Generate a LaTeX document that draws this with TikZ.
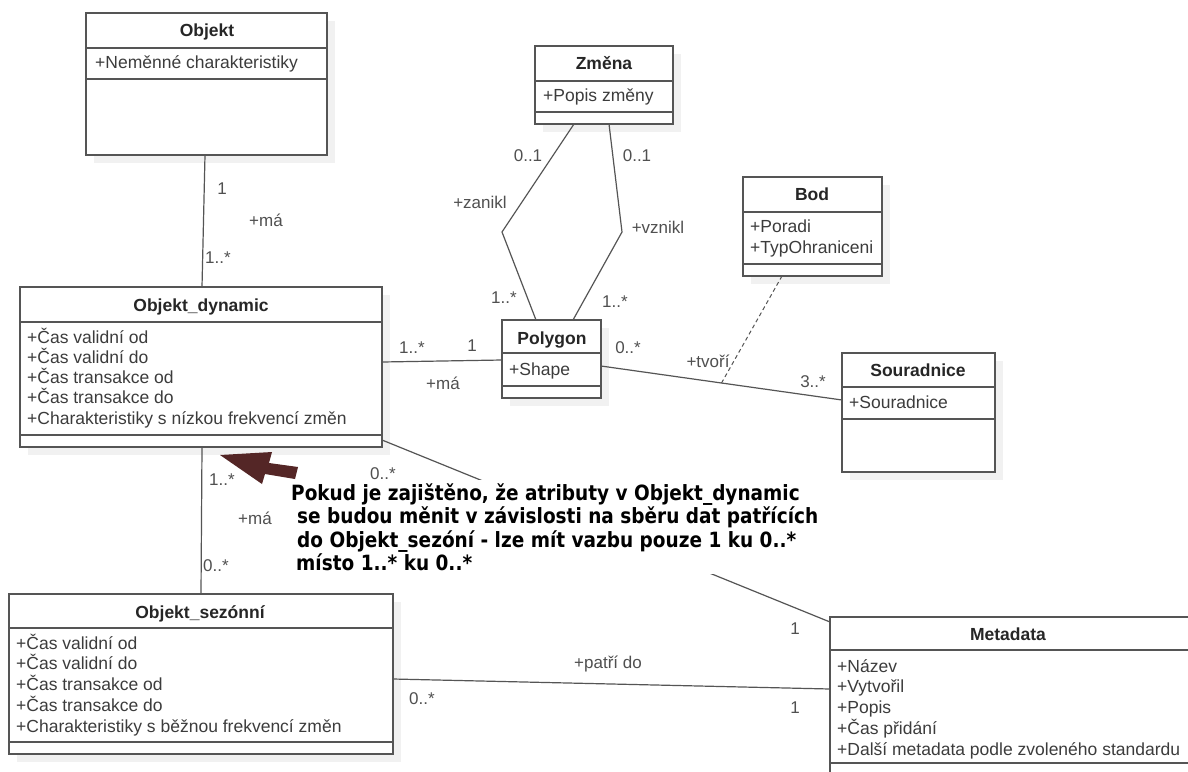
\documentclass[tikz,border=0pt]{standalone}
\usepackage{fontspec}
\setmainfont{Liberation Sans}
\newfontfamily\notefont[FakeStretch=0.88]{DejaVu Sans}
\usetikzlibrary{calc}
\definecolor{linec}{HTML}{555555}
\definecolor{txtc}{HTML}{3C3C3C}
\definecolor{titc}{HTML}{262626}
\definecolor{labc}{HTML}{505050}
\definecolor{shadc}{HTML}{F1F1F1}
\definecolor{arrc}{RGB}{84,38,38}
\tikzset{
  classbox/.style={draw=linec, line width=1.3pt, fill=white, rectangle, inner sep=0pt, outer sep=0pt, anchor=north west},
  sepline/.style={draw=linec, line width=1.3pt},
  assoc/.style={draw=linec, line width=1.2pt},
  titletxt/.style={font=\fontsize{17.5}{20}\selectfont\bfseries, text=titc, inner sep=0pt, anchor=base},
  attrtxt/.style={font=\fontsize{17.5}{20}\selectfont, text=txtc, inner sep=0pt, anchor=base west},
  labtxt/.style={font=\fontsize{17}{20}\selectfont, text=labc, inner sep=0pt, anchor=base},
  notetxt/.style={font=\notefont\bfseries\fontsize{21}{23.5}\selectfont, text=black, fill=white, inner xsep=3pt, inner ysep=3pt, align=left, anchor=north west},
}
% #1 name, #2 x1, #3 y1, #4 x2, #5 y2, #6 sep1, #7 sep2
\newcommand\classframe[7]{%
  \fill[shadc] (#2+8,#3+8) rectangle (#4+8,#5+8);
  \node[classbox, minimum width={#4pt-#2pt}, minimum height={#5pt-#3pt}] (#1) at (#2,#3) {};
  \draw[sepline] (#2,#6) -- (#4,#6);
  \draw[sepline] (#2,#7) -- (#4,#7);
}
% #1 name, #2 x, #3 first centre y, #4 dy, #5 list
\newcommand\attrlist[5]{%
  \foreach \attrtext [count=\i from 0] in {#5} {\node[attrtxt] (#1-a\i) at (#2,#3+6+\i*#4) {\attrtext};}
}
\begin{document}
\begin{tikzpicture}[x=1pt,y=-1pt]
\useasboundingbox (0,0) rectangle (1188,771);
\fill[white] (0,0) rectangle (1188,771);
\clip (0,0) rectangle (1188,771);

% classes
\classframe{objekt}{86}{13}{327}{155}{48}{79}
\node[titletxt] (objekt-t) at (207,36) {Objekt};
\attrlist{objekt}{95}{62}{20}{+Neměnné charakteristiky}

\classframe{zmena}{535}{46}{673}{124}{81}{112}
\node[titletxt] (zmena-t) at (604,69) {Změna};
\attrlist{zmena}{543}{95}{20}{+Popis změny}

\classframe{bod}{743}{177}{882}{276}{212}{264}
\node[titletxt] (bod-t) at (812,200) {Bod};
\attrlist{bod}{750}{226}{21}{+Poradi,+TypOhraniceni}

\classframe{dyn}{20}{287}{382}{447}{322}{435}
\node[titletxt] (dyn-t) at (201,311) {Objekt\_dynamic};
\attrlist{dyn}{27}{337}{20.3}{+Čas validní od,+Čas validní do,+Čas transakce od,+Čas transakce do,+Charakteristiky s nízkou frekvencí změn}

\classframe{poly}{502}{320}{601}{398}{353}{386}
\node[titletxt] (poly-t) at (552,344) {Polygon};
\attrlist{poly}{509}{369}{20}{+Shape}

\classframe{sour}{842}{353}{995}{472}{387}{419}
\node[titletxt] (sour-t) at (918,376) {Souradnice};
\attrlist{sour}{849}{402}{20}{+Souradnice}

\classframe{sez}{9}{594}{393}{754}{628}{742}
\node[titletxt] (sez-t) at (200,618) {Objekt\_sezónní};
\attrlist{sez}{16}{643}{20.75}{+Čas validní od,+Čas validní do,+Čas transakce od,+Čas transakce do,+Charakteristiky s běžnou frekvencí změn}

\classframe{meta}{830}{617}{1195}{800}{650}{763}
\node[titletxt] (meta-t) at (1008,640) {Metadata};
\attrlist{meta}{837}{666}{20.75}{+Název,+Vytvořil,+Popis,+Čas přidání,+Další metadata podle zvoleného standardu}

% connectors
\draw[assoc] ([xshift=-1.5pt]objekt.south) -- ([xshift=1pt]dyn.north);
\coordinate (bendL) at (502,232);
\coordinate (bendR) at (622,232);
\draw[assoc] ([xshift=-30pt]zmena.south) -- (bendL) -- ([xshift=-15.5pt]poly.north);
\draw[assoc] ([xshift=5pt]zmena.south) -- (bendR) -- ([xshift=21.5pt]poly.north);
\draw[assoc] ([yshift=5pt]dyn.east) -- ([yshift=-1pt]poly.west);
\draw[assoc] ([yshift=-7pt]poly.east) coordinate (pe) -- ([yshift=12.5pt]sour.west) coordinate (sw);
\coordinate (tvori) at ($(pe)!0.5!(sw)$);
\draw[draw=linec, line width=1pt, dash pattern=on 4pt off 3pt] ([xshift=-30.5pt]bod.south) -- (tvori);
\draw[assoc] ([yshift=7pt]dyn.south east) -- ([yshift=-5pt]meta.north west);
\draw[assoc] ([xshift=1pt]dyn.south) -- (sez.north);
\draw[assoc] ([yshift=-5pt]sez.east) -- ([yshift=-72pt]meta.north west);

% note
\node[notetxt] (note) at (288,480) {Pokud je zajištěno, že atributy v Objekt\_dynamic\\\hspace*{6pt}se budou měnit v závislosti na sběru dat patřících\\\hspace*{6pt}do Objekt\_sezóní - lze mít vazbu pouze 1 ku 0..*\\\hspace*{5pt}místo 1..* ku 0..*};

% pointer arrow
\fill[arrc] (220,455) -- (272,452) -- (269,463) -- (298,467) -- (295,479) -- (265,474) -- (262,484) -- cycle;

% labels
\node[labtxt] (l1) at (222,194) {1};
\node[labtxt] (l2) at (266,226) {+má};
\node[labtxt] (l3) at (218,263) {1..*};
\node[labtxt] (l4) at (528,161) {0..1};
\node[labtxt] (l5) at (637,161) {0..1};
\node[labtxt] (l6) at (480,208) {+zanikl};
\node[labtxt] (l7) at (658,233) {+vznikl};
\node[labtxt] (l8) at (504,303) {1..*};
\node[labtxt] (l9) at (615,307) {1..*};
\node[labtxt] (l10) at (412,353) {1..*};
\node[labtxt] (l11) at (472,351) {1};
\node[labtxt] (l12) at (443,389) {+má};
\node[labtxt] (l13) at (628,353) {0..*};
\node[labtxt] (l14) at (708,367) {+tvoří};
\node[labtxt] (l15) at (813,387) {3..*};
\node[labtxt] (l16) at (383,479) {0..*};
\node[labtxt] (l17) at (795,634) {1};
\node[labtxt] (l18) at (222,485) {1..*};
\node[labtxt] (l19) at (255,524) {+má};
\node[labtxt] (l20) at (216,571) {0..*};
\node[labtxt] (l21) at (608,668) {+patří do};
\node[labtxt] (l22) at (422,704) {0..*};
\node[labtxt] (l23) at (795,713) {1};
\end{tikzpicture}
\end{document}
